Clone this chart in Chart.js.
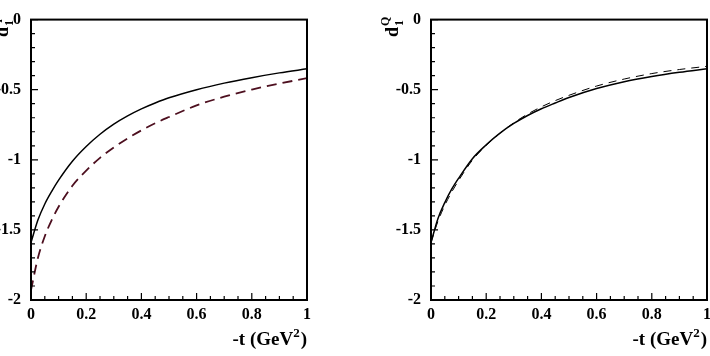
<!DOCTYPE html>
<html><head><meta charset="utf-8">
<script src="https://cdn.jsdelivr.net/npm/chart.js@4/dist/chart.umd.min.js"></script>
<style>
html,body{margin:0;padding:0;background:#fff;}
body{width:710px;height:356px;overflow:hidden;position:relative;}
canvas{position:absolute;top:0;}
#c1{left:0;}
#c2{left:360px;}
</style></head><body>
<canvas id="c1" width="360" height="356"></canvas>
<canvas id="c2" width="360" height="356"></canvas>
<script>
// -t (GeV^2) sample points
const tValues = [0,0.025,0.05,0.075,0.1,0.15,0.2,0.25,0.3,0.35,0.4,0.45,0.5,0.6,0.7,0.8,0.9,1.0];
// left panel
const leftSolid  = [-1.59,-1.43,-1.315,-1.225,-1.145,-1.01,-0.905,-0.818,-0.746,-0.687,-0.637,-0.595,-0.558,-0.500,-0.453,-0.414,-0.380,-0.351];
const leftDashed = [-1.93,-1.70,-1.545,-1.43,-1.335,-1.185,-1.077,-0.986,-0.912,-0.847,-0.790,-0.739,-0.695,-0.612,-0.550,-0.499,-0.456,-0.418];
// right panel (d1^Q)
const rightSolid  = [-1.59,-1.42,-1.305,-1.21,-1.132,-0.992,-0.893,-0.81,-0.741,-0.684,-0.636,-0.595,-0.556,-0.492,-0.443,-0.406,-0.376,-0.351];
const rightDashed = [-1.59,-1.44,-1.325,-1.23,-1.148,-1.003,-0.898,-0.81,-0.736,-0.674,-0.622,-0.578,-0.54,-0.474,-0.424,-0.385,-0.356,-0.333];
const xTickLabels = ['0','0.2','0.4','0.6','0.8','1'];
const yTickLabels = ['-2','-1.5','-1','-0.5','0'];
const xTitle = ['-t (GeV', '2', ')'];
const yTitles = {left:['d','1','q'], right:['d','1','Q']};

const FONT = '"Liberation Serif","Times New Roman",serif';

function pts(ys){ return tValues.map((t,i)=>({x:t,y:ys[i]})); }

function framePlugin(titleParts, titleBaseX){
  return {
    id:'frame',
    afterDraw(chart){
      const {ctx, chartArea:a, scales:{x,y}} = chart;
      ctx.save();
      ctx.strokeStyle='#000';
      ctx.lineWidth=2;
      ctx.strokeRect(a.left, a.top, a.right-a.left, a.bottom-a.top);
      ctx.lineWidth=1.2;
      ctx.beginPath();
      for(let i=0;i<=20;i++){
        const px=x.getPixelForValue(i*0.05);
        const L=(i%4===0)?7:4;
        ctx.moveTo(px,a.bottom); ctx.lineTo(px,a.bottom-L);
      }
      for(let i=0;i<=20;i++){
        const py=y.getPixelForValue(-i*0.1);
        const L=(i%5===0)?7:4;
        ctx.moveTo(a.left,py); ctx.lineTo(a.left+L,py);
      }
      ctx.stroke();
      // x title with superscript
      ctx.fillStyle='#000';
      ctx.textBaseline='alphabetic';
      ctx.textAlign='left';
      const big='bold 19px '+FONT, small='bold 13px '+FONT;
      ctx.font=big; const w1=ctx.measureText(xTitle[0]).width; const w3=ctx.measureText(xTitle[2]).width;
      ctx.font=small; const w2=ctx.measureText(xTitle[1]).width;
      let sx=a.right-(w1+w2+w3+1);
      const by=345;
      ctx.font=big; ctx.fillText(xTitle[0],sx,by); sx+=w1;
      ctx.font=small; ctx.fillText(xTitle[1],sx,by-8); sx+=w2+1;
      ctx.font=big; ctx.fillText(xTitle[2],sx,by);
      // y title rotated
      const tb='bold 18px '+FONT, ts='bold 12px '+FONT;
      ctx.translate(titleBaseX,37);
      ctx.rotate(-Math.PI/2);
      ctx.font=tb; ctx.fillText(titleParts[0],0,0);
      const wd=ctx.measureText(titleParts[0]).width;
      ctx.font=ts;
      ctx.fillText(titleParts[1],wd+1,5);
      ctx.fillText(titleParts[2],wd+1,-9);
      ctx.restore();
    }
  };
}

function makeChart(id, solid, dashed, dashColor, dashWidth, dashPattern, yWidth, padRight, titleParts, titleBaseX){
  return new Chart(document.getElementById(id), {
    type:'line',
    data:{datasets:[
      {data:pts(solid), borderColor:'#000', borderWidth:1.5, pointRadius:0, cubicInterpolationMode:'monotone', fill:false},
      {data:pts(dashed), borderColor:dashColor, borderWidth:dashWidth, borderDash:dashPattern, pointRadius:0, cubicInterpolationMode:'monotone', fill:false}
    ]},
    options:{
      responsive:false, animation:false,
      layout:{padding:{top:14,right:padRight,left:0,bottom:0}},
      plugins:{legend:{display:false}, tooltip:{enabled:false}},
      scales:{
        x:{type:'linear', min:0, max:1,
          afterFit:(s)=>{s.height=56;},
          grid:{display:false, drawTicks:false}, border:{display:false},
          ticks:{stepSize:0.2, padding:5, color:'#000', font:{family:FONT, size:16, weight:'bold'},
            callback:(v)=>{const i=Math.round(v/0.2); return xTickLabels[i];}}},
        y:{type:'linear', min:-2, max:0,
          afterFit:(s)=>{s.width=yWidth;},
          grid:{display:false, drawTicks:false}, border:{display:false},
          ticks:{stepSize:0.5, padding:10, color:'#000', font:{family:FONT, size:16, weight:'bold'},
            callback:(v)=>{const i=Math.round((v+2)/0.5); return yTickLabels[i];}}}
      }
    },
    plugins:[framePlugin(titleParts, titleBaseX)]
  });
}

makeChart('c1', leftSolid, leftDashed, '#4d0f1f', 1.8, [10,6], 31, 53, yTitles.left, 8);
makeChart('c2', rightSolid, rightDashed, '#000', 1, [8,6], 71, 13, yTitles.right, 38);
</script>
</body></html>
